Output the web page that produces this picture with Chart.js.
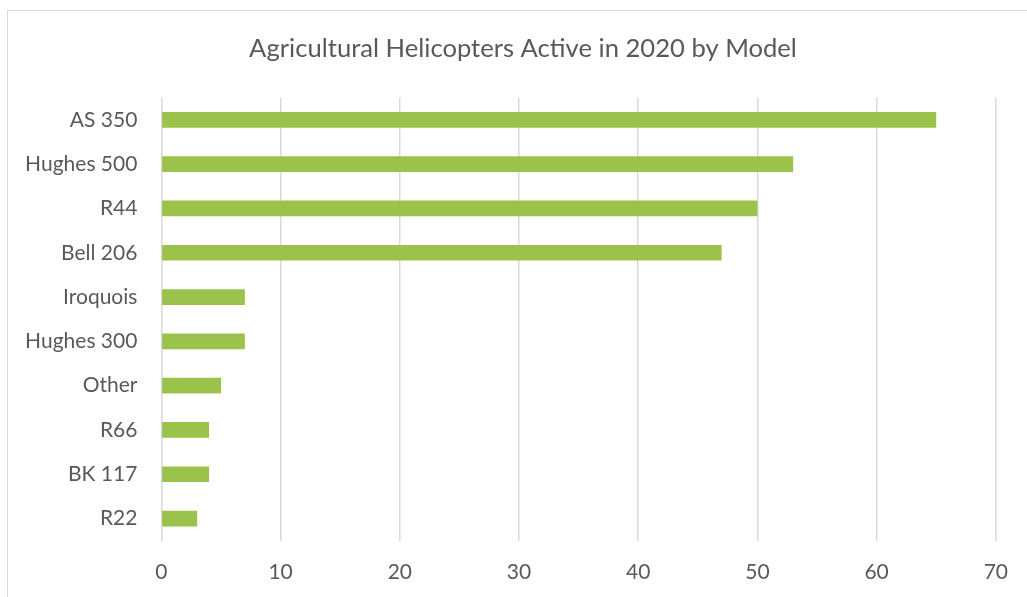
<!DOCTYPE html>
<html><head><meta charset="utf-8">
<script src="https://cdn.jsdelivr.net/npm/chart.js@4/dist/chart.umd.min.js"></script>
<style>
html,body{margin:0;padding:0;background:#fff;}
#wrap{position:relative;width:1027px;height:597px;overflow:hidden;}
#frame{position:absolute;left:7px;top:10px;width:1040px;height:600px;border:1px solid #d9d9d9;box-sizing:border-box;}
canvas{position:absolute;left:0;top:0;}
</style></head>
<body><div id="wrap"><div id="frame"></div><canvas id="c" width="1027" height="597"></canvas></div>
<script>
const titleText = 'Agricultural Helicopters Active in 2020 by Model';
const categories = ['AS 350','Hughes 500','R44','Bell 206','Iroquois','Hughes 300','Other','R66','BK 117','R22'];
const helicopters = [65, 53, 50, 47, 7, 7, 5, 4, 4, 3];
const xTicks = [0, 10, 20, 30, 40, 50, 60, 70];

const FONT = 'Lato';
const TEXT = '#595959';

const titlePlugin = {
  id: 'offsetTitle',
  afterDraw(chart) {
    const ctx = chart.ctx;
    ctx.save();
    ctx.fillStyle = TEXT;
    ctx.font = '25.6px ' + FONT;
    ctx.textAlign = 'center';
    ctx.textBaseline = 'alphabetic';
    ctx.fillText(titleText, 523, 56.5);
    ctx.restore();
  }
};

new Chart(document.getElementById('c'), {
  type: 'bar',
  data: {
    labels: categories,
    datasets: [{
      data: helicopters,
      backgroundColor: '#9BC34B',
      borderWidth: 0,
      barPercentage: 0.355,
      categoryPercentage: 1
    }]
  },
  options: {
    indexAxis: 'y',
    responsive: false,
    animation: false,
    devicePixelRatio: 1,
    layout: { padding: { top: 97.7, right: 28.5, left: 0, bottom: 0 } },
    plugins: {
      legend: { display: false },
      tooltip: { enabled: false },
      title: { display: false }
    },
    scales: {
      x: {
        min: 0, max: 70,
        afterBuildTicks: s => { s.ticks = xTicks.map(v => ({ value: v })); },
        ticks: { color: TEXT, font: { family: FONT, size: 21 }, padding: 19 },
        grid: { color: '#d9d9d9', lineWidth: 1.5, drawTicks: false },
        border: { display: false },
        afterFit: s => { s.height = 56.3; }
      },
      y: {
        grid: { display: false },
        border: { display: false },
        ticks: { color: TEXT, font: { family: FONT, size: 21 }, padding: 16 },
        afterFit: s => { s.width = 161.4; }
      }
    }
  },
  plugins: [titlePlugin]
});
</script>
</body></html>
